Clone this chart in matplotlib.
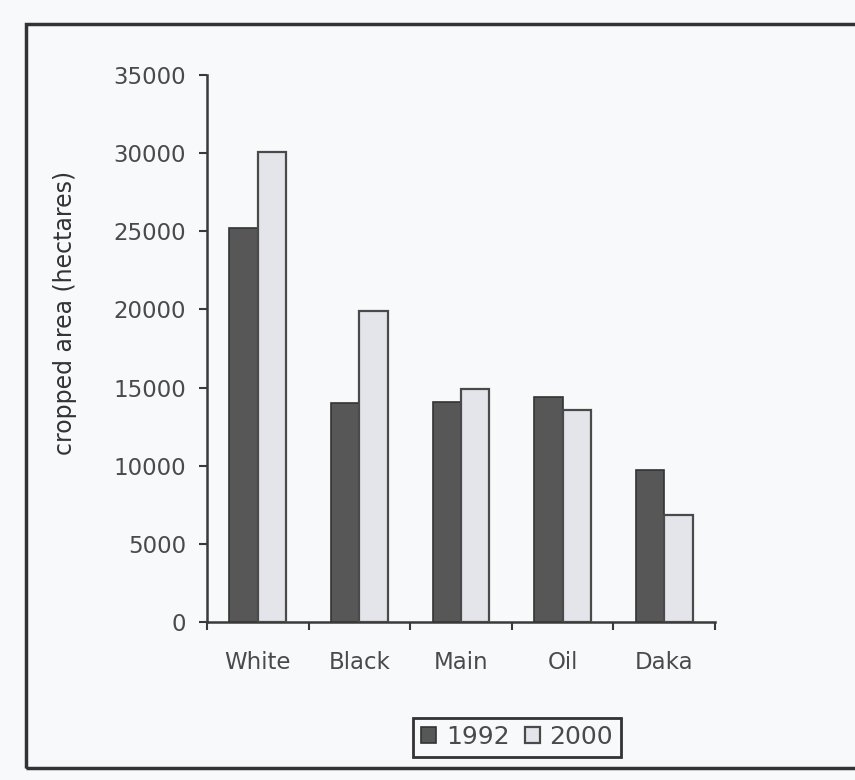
import matplotlib
matplotlib.use("Agg")
import matplotlib.pyplot as plt
from matplotlib.patches import Rectangle
import numpy as np

categories = ["White", "Black", "Main", "Oil", "Daka"]
values_1992 = [25200, 14000, 14100, 14400, 9750]
values_2000 = [30100, 19900, 14900, 13550, 6850]
yticks = [0, 5000, 10000, 15000, 20000, 25000, 30000, 35000]

bg = "#f8f9fb"
W, H = 855, 780
fig = plt.figure(figsize=(W / 100, H / 100), dpi=100, facecolor=bg)
ax = fig.add_axes([207 / W, 1 - 622 / H, (715 - 207) / W, (622 - 75) / H])
ax.set_facecolor(bg)

x = np.arange(len(categories))
bw = 0.28
ax.bar(x - bw / 2, values_1992, width=bw, color="#575757", edgecolor="#333333",
       linewidth=1.2, label="1992", zorder=3)
ax.bar(x + bw / 2, values_2000, width=bw, color="#e4e5ea", edgecolor="#4a4a4a",
       linewidth=1.6, label="2000", zorder=3)

ax.set_xlim(-0.5, len(categories) - 0.5)
ax.set_ylim(0, 35000)
ax.set_yticks(yticks)
ax.set_yticklabels([str(v) for v in yticks])
ax.set_xticks(x)
ax.set_xticklabels(categories)
ax.set_xticks(np.arange(len(categories) + 1) - 0.5, minor=True)

for s in ["top", "right"]:
    ax.spines[s].set_visible(False)
for s in ["left", "bottom"]:
    ax.spines[s].set_color("#3a3a3a")
    ax.spines[s].set_linewidth(1.8)

txt = "#4a4a4a"
ax.tick_params(axis="y", direction="out", length=6, width=1.5, color="#3a3a3a",
               labelsize=16.5, labelcolor=txt, pad=9)
ax.tick_params(axis="x", which="major", length=0, labelsize=16.5, labelcolor=txt, pad=21)
ax.tick_params(axis="x", which="minor", direction="out", length=6, width=1.5, color="#3a3a3a")

ax.set_ylabel("cropped area (hectares)", fontsize=17, color="#333333")
ax.yaxis.set_label_coords(-0.255, 0.565)

leg = fig.legend(loc="center", bbox_to_anchor=(517 / W, 1 - 737 / H), ncol=2,
                 fontsize=18, handlelength=0.6, handleheight=0.6, handletextpad=0.4,
                 columnspacing=0.6, borderpad=0.3, fancybox=False, framealpha=1,
                 labelcolor=txt)
leg.get_frame().set_edgecolor("#333333")
leg.get_frame().set_linewidth(2)
leg.get_frame().set_facecolor(bg)

frame = Rectangle((26 / W, 1 - 768 / H), 1.0, (768 - 24) / H, transform=fig.transFigure,
                  fill=False, edgecolor="#333333", linewidth=2.5, clip_on=False)
fig.patches.append(frame)

fig.savefig("out.png", dpi=100, facecolor=bg)
